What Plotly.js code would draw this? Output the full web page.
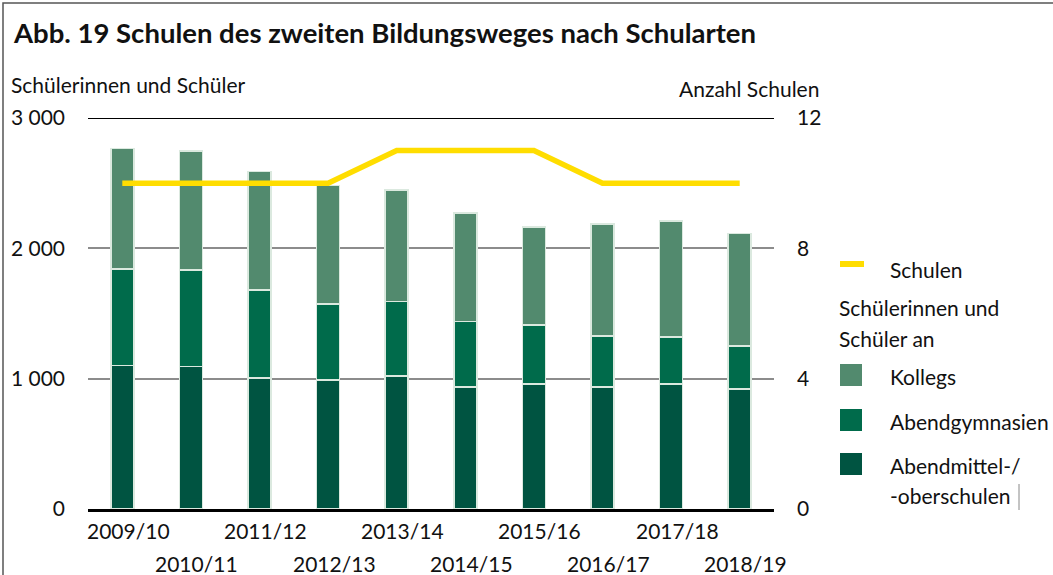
<!DOCTYPE html>
<html><head><meta charset="utf-8">
<script src="https://cdn.plot.ly/plotly-3.0.1.min.js"></script>
<style>html,body{margin:0;padding:0;background:#fff}#chart{width:1053px;height:575px}</style>
</head><body><div id="chart"></div>
<script>
const years = ["2009/10","2010/11","2011/12","2012/13","2013/14","2014/15","2015/16","2016/17","2017/18","2018/19"];
const mittelschulen = [1100,1095,1005,990,1020,935,960,935,960,920];
const abendgymnasien = [740,740,676,583,574,505,452,393,360,332];
const kollegs = [925,910,908,908,854,830,752,857,890,861];
const schulen = [10,10,10,10,11,11,11,10,10,10];
const leftTicks = [0,1000,2000,3000];
const leftTickText = ["0","1 000","2 000","3 000"];
const rightTicks = [0,4,8,12];

const FONT = "Lato, 'Open Sans', sans-serif";
const FS = 21;
const cKoll = "#528a6e", cGym = "#006b4b", cMit = "#005441", cYel = "#ffdd00";

// plot area in px
const L = 88, R = 774, T = 118, B = 509;
const W = 1053, H = 575;
const px = x => (x - L) / (R - L);
const py = y => (B - y) / (B - T);

const barLine = {color: "#dbe9df", width: 1.5};
const traces = [
  {type:"bar", x: years, y: mittelschulen, name:"Abendmittel-/-oberschulen", marker:{color:cMit, line:barLine}, showlegend:false, hoverinfo:"y"},
  {type:"bar", x: years, y: abendgymnasien, name:"Abendgymnasien", marker:{color:cGym, line:barLine}, showlegend:false, hoverinfo:"y"},
  {type:"bar", x: years, y: kollegs, name:"Kollegs", marker:{color:cKoll, line:barLine}, showlegend:false, hoverinfo:"y"},
  {type:"scatter", mode:"lines", x: years, y: schulen, yaxis:"y2", name:"Schulen", line:{color:cYel, width:5.5}, showlegend:false}
];

const annotations = [];
years.forEach((yr, i) => {
  annotations.push({xref:"x", yref:"paper", x: yr, y: py(i % 2 === 0 ? 530 : 563), text: yr, showarrow:false,
    xanchor:"center", yanchor:"middle", xshift:6, font:{family:FONT, size:FS, color:"#111"}});
});
const txt = (x, y, t, anchor, size, bold) => ({xref:"paper", yref:"paper", x:px(x), y:py(y), text: bold ? "<b>"+t+"</b>" : t,
  showarrow:false, xanchor:anchor, yanchor:"middle", font:{family:FONT, size:size, color:"#111"}});
annotations.push(txt(11, 32, "Abb. 19 Schulen des zweiten Bildungsweges nach Schularten", "left", 27.5, true));
annotations.push(txt(9, 84, "Schülerinnen und Schüler", "left", FS));
annotations.push(txt(821, 88, "Anzahl Schulen", "right", FS));
// legend texts
annotations.push(txt(888, 269, "Schulen", "left", FS));
annotations.push(txt(837, 307, "Schülerinnen und", "left", FS));
annotations.push(txt(837, 338, "Schüler an", "left", FS));
annotations.push(txt(888, 376, "Kollegs", "left", FS));
annotations.push(txt(888, 421, "Abendgymnasien", "left", FS));
annotations.push(txt(888, 465, "Abendmittel-/", "left", FS));
annotations.push(txt(888, 495, "-oberschulen", "left", FS));

const rect = (x0,y0,x1,y1,color) => ({type:"rect", xref:"paper", yref:"paper", x0:px(x0), x1:px(x1), y0:py(y1), y1:py(y0), fillcolor:color, line:{width:0}});
const shapes = [
  // outer frame
  {type:"rect", xref:"paper", yref:"paper", x0:px(3), x1:px(1070), y0:py(590), y1:py(3), line:{color:"#555", width:1.5}, fillcolor:"rgba(0,0,0,0)", layer:"below"},
  // top line at 3000
  {type:"line", xref:"paper", yref:"y", x0:0, x1:1, y0:3000, y1:3000, line:{color:"#000", width:2}},
  // legend swatches
  {type:"line", xref:"paper", yref:"paper", x0:px(840), x1:px(864), y0:py(264), y1:py(264), line:{color:cYel, width:6}},
  rect(840,364,862,386,cKoll),
  rect(840,409,862,431,cGym),
  rect(840,453,862,475,cMit),
  // cursor mark
  {type:"line", xref:"paper", yref:"paper", x0:px(1019), x1:px(1019), y0:py(484), y1:py(510), line:{color:"#888", width:1}}
];

const layout = {
  width: W, height: H,
  margin: {l: L, r: W - R, t: T, b: H - B, pad: 0},
  paper_bgcolor:"#fff", plot_bgcolor:"#fff",
  barmode:"stack", bargap:0.665,
  showlegend:false,
  font:{family:FONT, size:FS, color:"#111"},
  xaxis:{type:"category", range:[-0.5, 9.5], showticklabels:false, ticks:"", showgrid:false,
    showline:true, linecolor:"#000", linewidth:3, zeroline:false, fixedrange:true},
  yaxis:{range:[0,3000], tickvals:leftTicks, ticktext:leftTickText, showgrid:true, gridcolor:"#8c8c8c", gridwidth:2,
    zeroline:false, showline:false, ticks:"", ticklabelstandoff:22, tickfont:{family:FONT, size:FS, color:"#111"}, fixedrange:true},
  yaxis2:{range:[0,12], tickvals:rightTicks, overlaying:"y", side:"right", showgrid:false, zeroline:false, showline:false,
    ticks:"", ticklabelstandoff:22, tickfont:{family:FONT, size:FS, color:"#111"}, fixedrange:true},
  annotations: annotations,
  shapes: shapes
};
Plotly.newPlot("chart", traces, layout, {staticPlot:true, displayModeBar:false});
</script></body></html>
